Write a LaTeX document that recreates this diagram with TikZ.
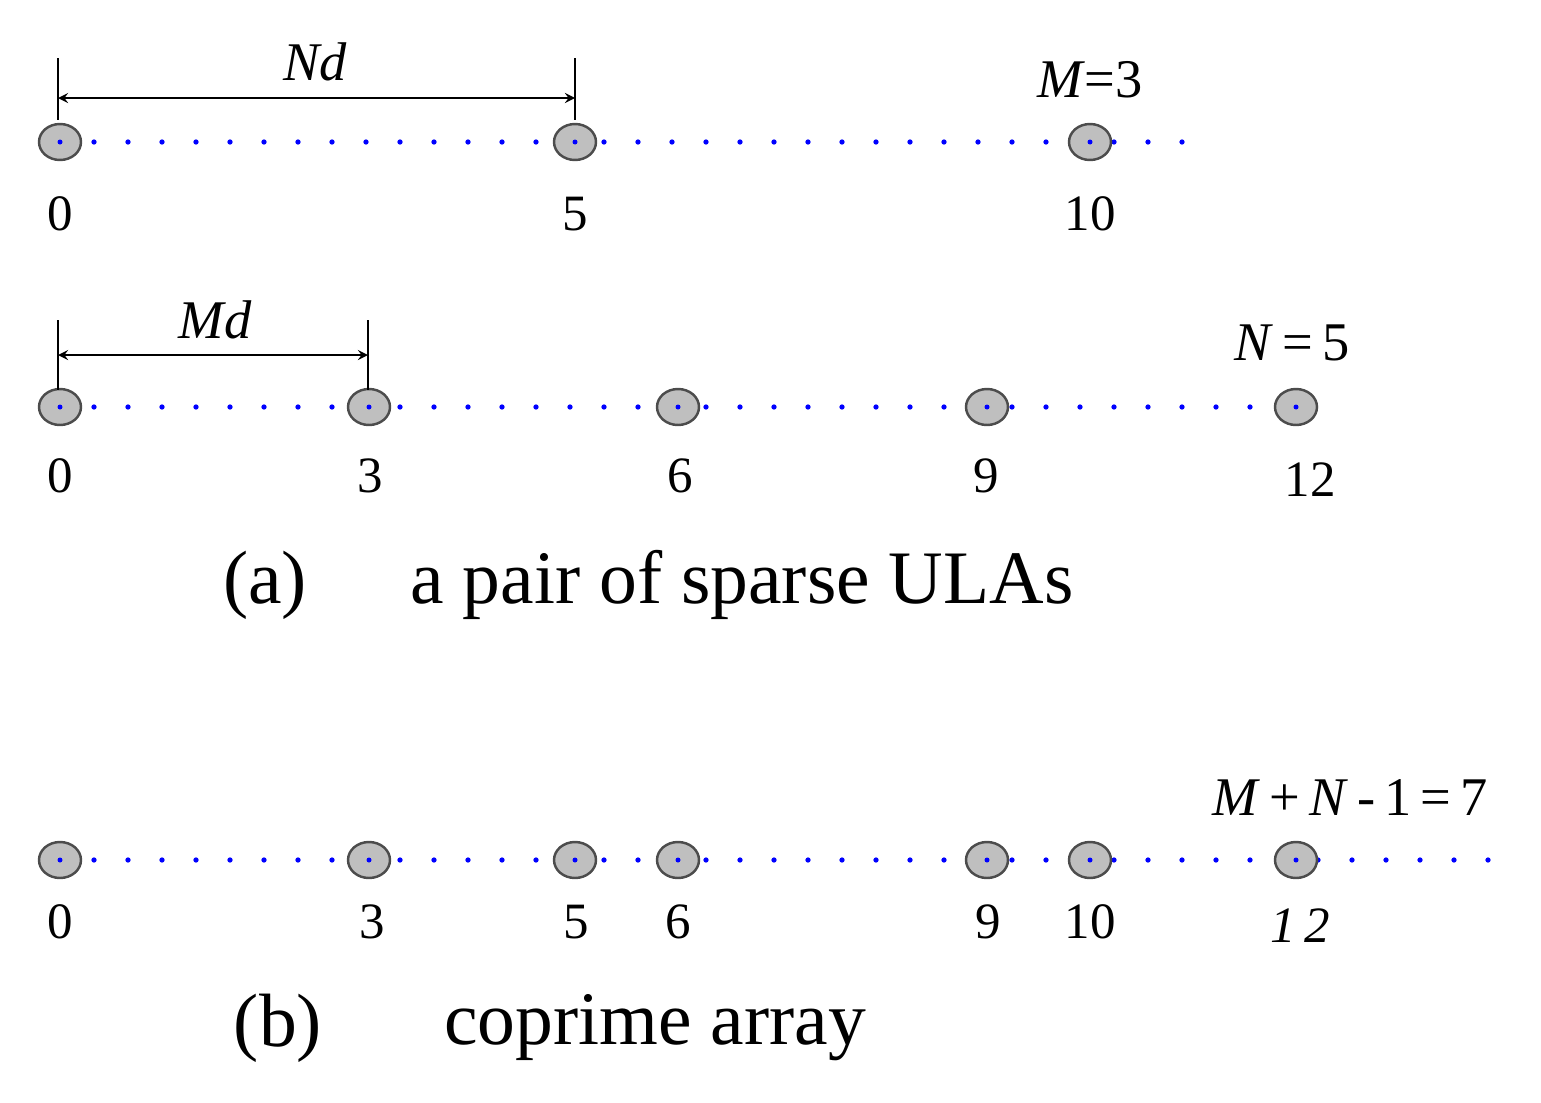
\documentclass[tikz,border=0pt]{standalone}
\usepackage{fontspec}
\setmainfont{Liberation Serif}
\usetikzlibrary{shapes.geometric}
\begin{document}
\begin{tikzpicture}[x=0.02cm,y=-0.02cm,
  el/.style={draw=black!70,fill=black!25,line width=1.4pt,ellipse,minimum width=42*0.02cm,minimum height=36*0.02cm,inner sep=0pt},
  dl/.style={blue,line width=3pt,dash pattern=on 0pt off 34*0.02cm,line cap=round},
  num/.style={font=\fontsize{29}{30}\selectfont},
  lab/.style={font=\fontsize{31}{32}\selectfont},
  ttl/.style={font=\fontsize{43}{44}\selectfont},
  dim/.style={line width=1.5pt,<->,>=stealth}]
\useasboundingbox (0,0) rectangle (1541,1102);
% row 1
\coordinate (r1s) at (60,142); \coordinate (r1e) at (1200,142);
\draw[dl] (r1s) -- (r1e);
\foreach \v/\n in {0/0,5/5,10/10}{
  \node[el] (a\n) at (60+103*\v,142) {};
  \fill[blue] (a\n) circle (2.5);
  \node[num] at (60+103*\v,214) {\n};}
\coordinate (t1a) at (58,58); \coordinate (t1b) at (58,120);
\coordinate (t2a) at (575,58); \coordinate (t2b) at (575,120);
\draw[line width=1.5pt] (t1a)--(t1b) (t2a)--(t2b);
\coordinate (d1a) at (58,98); \coordinate (d1b) at (575,98);
\draw[dim] (d1a)--(d1b);
\node[lab] at (315,62) {\textit{Nd}};
\node[lab] at (1090,80) {\textit{M}=3};
% row 2
\coordinate (r2s) at (60,407); \coordinate (r2e) at (1300,407);
\draw[dl] (r2s) -- (r2e);
\foreach \v/\n in {0/0,3/3,6/6,9/9,12/12}{
  \node[el] (b\n) at (60+103*\v,407) {};
  \fill[blue] (b\n) circle (2.5);}
\node[num] at (60,476) {0};
\node[num] at (370,476) {3};
\node[num] at (680,476) {6};
\node[num] at (986,476) {9};
\node[num] at (1310,480) {12};
\coordinate (u1a) at (58,320); \coordinate (u1b) at (58,390);
\coordinate (u2a) at (368,320); \coordinate (u2b) at (368,390);
\draw[line width=1.5pt] (u1a)--(u1b) (u2a)--(u2b);
\coordinate (d2a) at (58,355); \coordinate (d2b) at (368,355);
\draw[dim] (d2a)--(d2b);
\node[lab] at (215,320) {\textit{Md}};
\node[lab] at (1292,343) {\textit{N}\,=\,5};
\node[ttl] at (265,585) {(a)};
\node[ttl] at (742,585) {a pair of sparse ULAs};
% row 3
\coordinate (r3s) at (60,860); \coordinate (r3e) at (1505,860);
\draw[dl] (r3s) -- (r3e);
\foreach \v/\n in {0/0,3/3,5/5,6/6,9/9,10/10,12/12}{
  \node[el] (c\n) at (60+103*\v,860) {};
  \fill[blue] (c\n) circle (2.5);}
\node[num] at (60,922) {0};
\node[num] at (372,922) {3};
\node[num] at (576,922) {5};
\node[num] at (678,922) {6};
\node[num] at (988,922) {9};
\node[num] at (1090,922) {10};
\node[num] at (1300,926) {\textit{1\,2}};
\node[lab] at (1350,798) {\textit{M}\,+\,\textit{N}\,-\,1\,=\,7};
\node[ttl] at (278,1028) {(b)};
\node[ttl] at (655,1028) {coprime array};
\end{tikzpicture}
\end{document}
